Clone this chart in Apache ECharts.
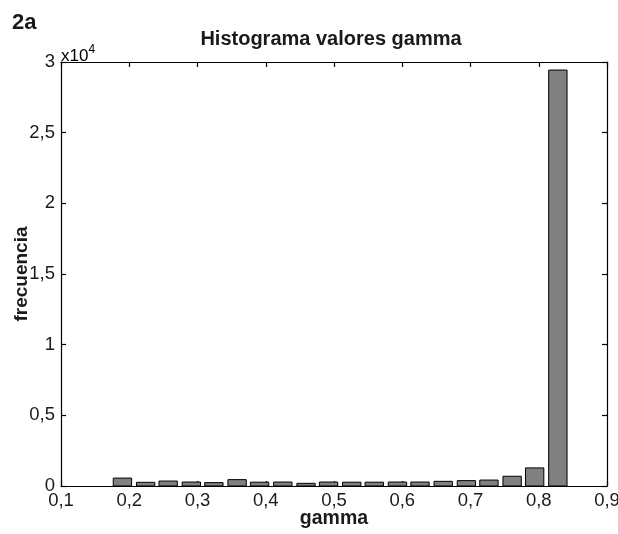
<!DOCTYPE html>
<html>
<head>
<meta charset="utf-8">
<script src="https://cdn.jsdelivr.net/npm/echarts@6/dist/echarts.min.js"></script>
<style>html,body{margin:0;padding:0;background:#fff;}#c{width:618px;height:534px;}</style>
</head>
<body>
<div id="c"></div>
<script>
// Histogram bin centers (gamma) and counts (frecuencia)
var binCenters = [0.190, 0.224, 0.257, 0.291, 0.324, 0.358, 0.391, 0.425, 0.459, 0.492,
                  0.526, 0.559, 0.593, 0.626, 0.660, 0.694, 0.727, 0.761, 0.794, 0.828];
var counts = [560, 260, 350, 280, 240, 450, 270, 280, 190, 280,
              270, 270, 280, 280, 330, 380, 420, 690, 1280, 29430];
var binWidth = 0.0336;
var xTicks = ['0,1','0,2','0,3','0,4','0,5','0,6','0,7','0,8','0,9'];
var yTicks = ['0','0,5','1','1,5','2','2,5','3'];

var FONT = '"Liberation Sans", Arial, Helvetica, sans-serif';
var TXT = '#1a1a1a';

var data = binCenters.map(function (c, i) { return [c, counts[i]]; });

var chart = echarts.init(document.getElementById('c'), null, {renderer: 'canvas'});
var axisCommon = {
  axisLine: {show: true, onZero: false, lineStyle: {color: '#000', width: 1.2}},
  axisTick: {show: true, inside: true, length: 5, lineStyle: {color: '#000', width: 1.2}},
  splitLine: {show: false}
};
chart.setOption({
  animation: false,
  backgroundColor: '#ffffff',
  title: {
    text: 'Histograma valores gamma',
    left: 326, top: 24, textAlign: 'center',
    textStyle: {fontFamily: FONT, fontWeight: 'bold', fontSize: 20, color: TXT}
  },
  graphic: [
    {type: 'text', left: 12, top: 12,
     style: {text: '2a', font: 'bold 22px ' + FONT, fill: TXT}},
    {type: 'text', left: 61, top: 44,
     style: {text: '{a|x10}{b|4}', rich: {
       a: {fontFamily: FONT, fontSize: 17, color: TXT, verticalAlign: 'bottom'},
       b: {fontFamily: FONT, fontSize: 12, color: TXT, verticalAlign: 'top', padding: [0,0,9,0]}
     }}}
  ],
  grid: {left: 61, right: 11, top: 62, bottom: 48, containLabel: false, outerBoundsMode: 'none'},
  xAxis: [
    Object.assign({
      type: 'value', min: 0.1, max: 0.9, interval: 0.1, position: 'bottom',
      name: 'gamma', nameLocation: 'middle', nameGap: 23, nameMoveOverlap: false,
      nameTextStyle: {fontFamily: FONT, fontWeight: 'bold', fontSize: 19.5, color: TXT},
      axisLabel: {
        fontFamily: FONT, fontSize: 18.5, color: TXT, margin: 5,
        formatter: function (v) { return xTicks[Math.round((v - 0.1) * 10)]; }
      }
    }, axisCommon),
    Object.assign({
      type: 'value', min: 0.1, max: 0.9, interval: 0.1, position: 'top',
      axisLabel: {show: false}
    }, axisCommon)
  ],
  yAxis: [
    Object.assign({
      type: 'value', min: 0, max: 30000, interval: 5000, position: 'left',
      name: 'frecuencia', nameLocation: 'middle', nameGap: 30, nameRotate: 90, nameMoveOverlap: false,
      nameTextStyle: {fontFamily: FONT, fontWeight: 'bold', fontSize: 19, color: TXT},
      axisLabel: {
        fontFamily: FONT, fontSize: 18.5, color: TXT, margin: 6,
        formatter: function (v) { return yTicks[Math.round(v / 5000)]; }
      }
    }, axisCommon),
    Object.assign({
      type: 'value', min: 0, max: 30000, interval: 5000, position: 'right',
      axisLabel: {show: false}
    }, axisCommon)
  ],
  series: [{
    type: 'custom',
    xAxisIndex: 0, yAxisIndex: 0,
    data: data,
    renderItem: function (params, api) {
      var x = api.value(0), y = api.value(1);
      var half = binWidth * 0.8 / 2;
      var p0 = api.coord([x - half, y]);
      var p1 = api.coord([x + half, 0]);
      return {
        type: 'rect',
        shape: {x: p0[0], y: p0[1], width: p1[0] - p0[0], height: p1[1] - p0[1]},
        style: {fill: '#808080', stroke: '#000', lineWidth: 1}
      };
    }
  }]
});
</script>
</body>
</html>
